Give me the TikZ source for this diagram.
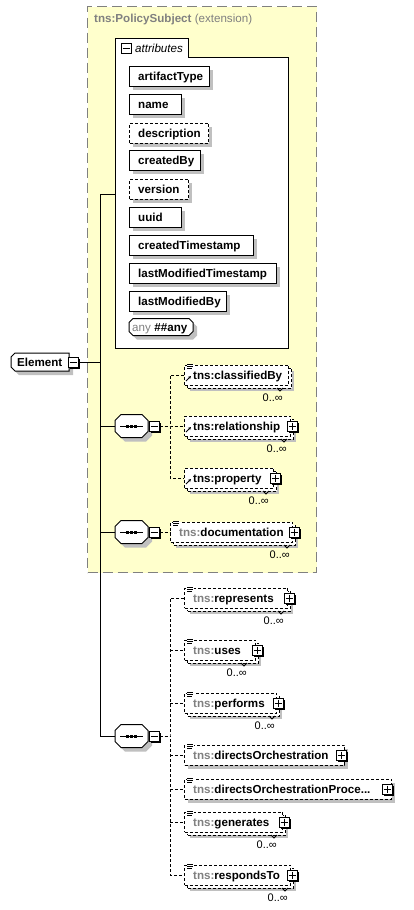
\documentclass[tikz,border=0pt]{standalone}
\usepackage{fontspec}
\setmainfont{Liberation Sans}
\usetikzlibrary{arrows.meta}

\definecolor{panelfill}{RGB}{255,255,204}
\definecolor{panelline}{RGB}{128,128,128}
\definecolor{shadowgrey}{RGB}{192,192,192}
\definecolor{nsgrey}{RGB}{128,128,128}

\tikzset{
  conn/.style={line width=1pt},
  dconn/.style={line width=1pt, dash pattern=on 3pt off 2pt},
  lbl/.style={font=\fontsize{11.6}{14}\selectfont\bfseries, inner sep=0pt, anchor=base west},
  card/.style={font=\fontsize{11}{13}\selectfont, inner sep=0pt, anchor=base east},
  boxbase/.style={rectangle, draw, line width=1pt, fill=white, inner sep=0pt,
    minimum height=20pt, anchor=west},
  solidbox/.style={boxbase},
  optbox/.style={boxbase, dash pattern=on 3pt off 2pt},
  iconbox/.style={rectangle, draw, line width=1pt, fill=white, inner sep=0pt, minimum size=10pt},
  frame/.style={rectangle, inner sep=0pt, outer sep=0pt, anchor=west},
}

% outline with cut corners around a frame node: node, left cut, right cut
\newcommand\cutframe[3]{%
  \fill[shadowgrey] ([shift={(4+#2,4)}]#1.north west) -- ([shift={(4-#3,4)}]#1.north east)
    -- ([shift={(4,4+#3)}]#1.north east) -- ([shift={(4,4-#3)}]#1.south east)
    -- ([shift={(4-#3,4)}]#1.south east) -- ([shift={(4+#2,4)}]#1.south west)
    -- ([shift={(4,4-#2)}]#1.south west) -- ([shift={(4,4+#2)}]#1.north west) -- cycle;
  \draw[line width=1pt, fill=white] ([shift={(#2,0)}]#1.north west) -- ([shift={(-#3,0)}]#1.north east)
    -- ([shift={(0,#3)}]#1.north east) -- ([shift={(0,-#3)}]#1.south east)
    -- ([shift={(-#3,0)}]#1.south east) -- ([shift={(#2,0)}]#1.south west)
    -- ([shift={(0,-#2)}]#1.south west) -- ([shift={(0,#2)}]#1.north west) -- cycle;
}
% attribute box: name, right x, centre y, text, box style
\newcommand\attrbox[5]{%
  \fill[shadowgrey] (133,#3-6) rectangle (#2+4,#3+14);
  \node[#5, minimum width={#2-129}] (#1) at (129,#3) {};
  \node[lbl] (#1-t) at ([shift={(9,4)}]#1.west) {#4};
}
% element that may repeat (second box behind, lower right):
% name, left, right, centre y, prefix colour, local name
\newcommand\multielem[6]{%
  \fill[shadowgrey] (#2+6,#4-4) rectangle (#3+6,#4+16);
  \node[optbox, minimum width={#3-#2}] (#1-back) at (#2+3,#4+3) {};
  \node[optbox, minimum width={#3-#2}] (#1) at (#2,#4) {};
  \node[lbl] (#1-t) at ([shift={(9,4)}]#1.west) {\textcolor{#5}{tns:}#6};
}
% optional single element
\newcommand\singleelem[6]{%
  \fill[shadowgrey] (#2+4,#4-6) rectangle (#3+4,#4+14);
  \node[optbox, minimum width={#3-#2}] (#1) at (#2,#4) {};
  \node[lbl] (#1-t) at ([shift={(9,4)}]#1.west) {\textcolor{#5}{tns:}#6};
}
% annotation mark in the upper left corner
\newcommand\docmark[1]{%
  \fill[white] ([shift={(3,-1)}]#1.north west) rectangle ++(7,6);
  \draw[line width=0.8pt] ([shift={(3,0)}]#1.north west) -- ++(6,0)
    ([shift={(3,2)}]#1.north west) -- ++(6,0)
    ([shift={(3,4)}]#1.north west) -- ++(5,0);
}
% reference arrow in the lower left corner
\newcommand\refmark[1]{%
  \draw[line width=0.8pt,-{Stealth[length=3pt,width=3pt]}]
    ([shift={(2,6)}]#1.west) -- ++(5,-5);
}
% expand / collapse buttons: name, centre x, centre y
\newcommand\plusmark[3]{%
  \fill (#2-3.5,#3-3.5) rectangle (#2+6.5,#3+6.5);
  \node[iconbox] (#1) at (#2,#3) {};
  \draw[line width=1pt] ([xshift=2pt]#1.west) -- ([xshift=-2pt]#1.east)
    ([yshift=-2pt]#1.north) -- ([yshift=2pt]#1.south);
}
\newcommand\minusmark[3]{%
  \fill (#2-3.5,#3-3.5) rectangle (#2+6.5,#3+6.5);
  \node[iconbox] (#1) at (#2,#3) {};
  \draw[line width=1pt] ([xshift=2pt]#1.west) -- ([xshift=-2pt]#1.east);
}
% occurrence label: name, right x, centre y of the box above
\newcommand\cardlabel[3]{%
  \node[card] (#1) at (#2,#3+26) {0..∞};
  \draw[line width=0.8pt] (#2-6,#3+13) -- (#2-3,#3+16) -- (#2,#3+13);
}
% sequence compositor: name, centre y
\newcommand\compositor[2]{%
  \node[frame, minimum width=33pt, minimum height=23pt] (#1) at (115,#2) {};
  \cutframe{#1}{6}{6}
  \draw[line width=1pt] ([xshift=5pt]#1.west) -- ([xshift=-5pt]#1.east);
  \foreach \d in {-4,0,4}{\fill ([xshift=\d pt]#1.center) ++(-1.5,-1.5) rectangle ++(3,3);}
  \minusmark{#1-m}{154}{#2}
}

\begin{document}
\begin{tikzpicture}[x=1pt,y=-1pt]
\fill[white] (0,0) rectangle (414,910);
\useasboundingbox (0,0) rectangle (414,910);

% extension panel
\node[draw=panelline, fill=panelfill, line width=1pt, dash pattern=on 10pt off 5pt,
  minimum width=229pt, minimum height=566pt, inner sep=0pt, anchor=north west]
  (ext) at (87,6) {};
\node[anchor=base west, inner sep=0pt, font=\fontsize{11.6}{14}\selectfont, text=nsgrey]
  (ext-title) at (94,23) {\textbf{tns:PolicySubject} (extension)};

% attribute group
\draw[line width=1pt, fill=white] (115,348) -- (115,38) -- (188,38) -- (188,57)
  -- (288,57) -- (288,348) -- cycle;
\node[iconbox] (attr-m) at (126,48.5) {};
\draw[line width=1pt] ([xshift=2pt]attr-m.west) -- ([xshift=-2pt]attr-m.east);
\node[anchor=base west, inner sep=0pt, font=\fontsize{11.6}{14}\selectfont\itshape]
  (attr-t) at (135,52.5) {attributes};
\coordinate (attr-in) at (115,194);

\attrbox{artifactType}{209}{76}{artifactType}{solidbox}
\attrbox{name}{181}{104}{name}{solidbox}
\attrbox{description}{208}{133}{description}{optbox}
\attrbox{createdBy}{200}{160}{createdBy}{solidbox}
\attrbox{version}{188}{189}{version}{optbox}
\attrbox{uuid}{181}{217}{uuid}{solidbox}
\attrbox{createdTimestamp}{253}{245}{createdTimestamp}{solidbox}
\attrbox{lastModifiedTimestamp}{276}{273}{lastModifiedTimestamp}{solidbox}
\attrbox{lastModifiedBy}{226}{301}{lastModifiedBy}{solidbox}
\node[frame, minimum width=64pt, minimum height=17pt] (any) at (129,327) {};
\cutframe{any}{4}{4}
\node[lbl] (any-t) at ([shift={(3,4)}]any.west)
  {\textcolor{nsgrey}{\mdseries any}\hspace{3.5pt}\#\#any};

% root element
\node[frame, minimum width=58pt, minimum height=18pt] (element) at (11,362) {};
\cutframe{element}{4}{0}
\node[lbl] (element-t) at (17,366) {Element};
\minusmark{element-m}{73}{362}

% compositors
\compositor{seq1}{426}
\compositor{seq2}{532}
\compositor{seq3}{736}

% first sequence
\multielem{classifiedBy}{184}{288}{375}{black}{classifiedBy}
\docmark{classifiedBy}
\refmark{classifiedBy}
\cardlabel{classifiedBy-c}{283}{375}
\multielem{relationship}{184}{290}{426}{black}{relationship}
\refmark{relationship}
\plusmark{relationship-p}{292}{426}
\cardlabel{relationship-c}{287}{426}
\multielem{property}{184}{273}{478}{black}{property}
\refmark{property}
\plusmark{property-p}{275}{478}
\cardlabel{property-c}{269}{478}

% second sequence
\multielem{documentation}{170}{292}{532}{nsgrey}{documentation}
\docmark{documentation}
\plusmark{documentation-p}{294}{532}
\cardlabel{documentation-c}{290}{532}

% third sequence
\multielem{represents}{184}{287}{598}{nsgrey}{represents}
\docmark{represents}
\plusmark{represents-p}{289}{598}
\cardlabel{represents-c}{284}{598}
\multielem{uses}{184}{255}{650}{nsgrey}{uses}
\docmark{uses}
\plusmark{uses-p}{257}{650}
\cardlabel{uses-c}{247}{650}
\multielem{performs}{184}{276}{703}{nsgrey}{performs}
\docmark{performs}
\plusmark{performs-p}{278}{703}
\cardlabel{performs-c}{275}{703}
\singleelem{directsOrchestration}{184}{344}{755}{nsgrey}{directsOrchestration}
\docmark{directsOrchestration}
\plusmark{directsOrchestration-p}{341}{755}
\singleelem{directsOrchestrationProce}{184}{391}{789}{nsgrey}{directsOrchestrationProce...}
\docmark{directsOrchestrationProce}
\plusmark{directsOrchestrationProce-p}{387}{789}
\multielem{generates}{184}{282}{822}{nsgrey}{generates}
\docmark{generates}
\plusmark{generates-p}{284}{822}
\cardlabel{generates-c}{277}{822}
\multielem{respondsTo}{184}{290}{875}{nsgrey}{respondsTo}
\docmark{respondsTo}
\plusmark{respondsTo-p}{292}{875}
\cardlabel{respondsTo-c}{288}{875}

% connectors from the root element
\coordinate (bus) at (100.5,362);
\draw[conn] (element-m.east) -- (bus);
\draw[conn] (attr-in) -| (bus) |- (seq3.west);
\draw[conn] (bus |- seq1.west) -- (seq1.west);
\draw[conn] (bus |- seq2.west) -- (seq2.west);

% connectors inside the sequences
\coordinate (j1) at (170,426);
\draw[dconn] (seq1-m.east) -- (j1) -- (relationship.west);
\draw[dconn] (classifiedBy.west) -| (j1) |- (property.west);
\draw[dconn] (seq2-m.east) -- (documentation.west);
\coordinate (j3) at (170,736);
\draw[dconn] (seq3-m.east) -- (j3);
\draw[dconn] (represents.west) -| (j3) |- (respondsTo.west);
\draw[dconn] (j3 |- uses.west) -- (uses.west);
\draw[dconn] (j3 |- performs.west) -- (performs.west);
\draw[dconn] (j3 |- directsOrchestration.west) -- (directsOrchestration.west);
\draw[dconn] (j3 |- directsOrchestrationProce.west) -- (directsOrchestrationProce.west);
\draw[dconn] (j3 |- generates.west) -- (generates.west);
\end{tikzpicture}
\end{document}
